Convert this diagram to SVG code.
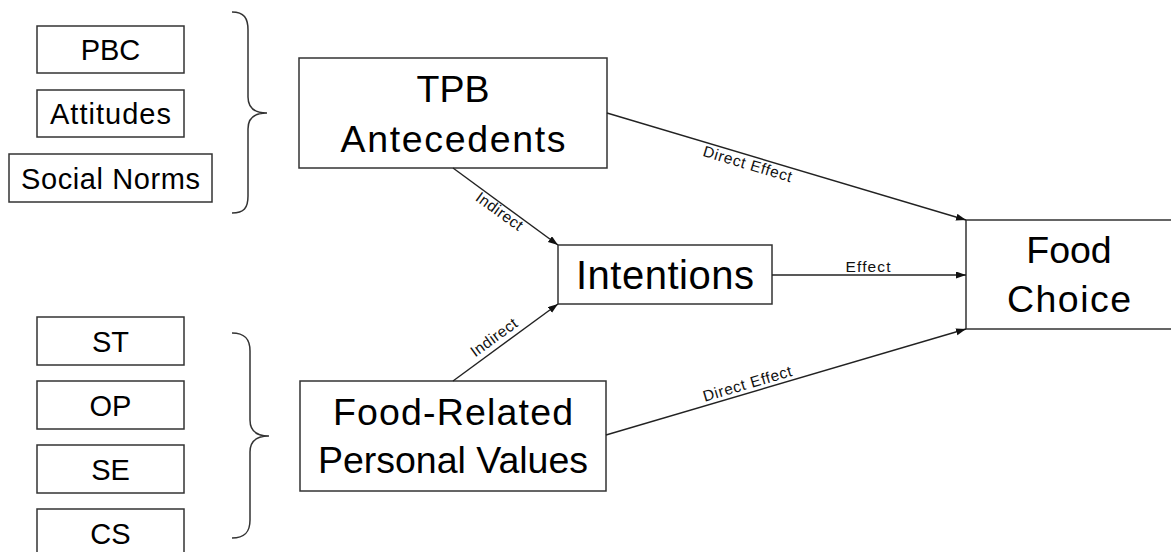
<svg xmlns="http://www.w3.org/2000/svg" width="1171" height="552" viewBox="0 0 1171 552">
<style>
.box{fill:#fff;stroke:#333;stroke-width:1.5}
.t{font-family:"Liberation Sans",Arial,sans-serif;fill:#000;text-anchor:middle}
.s{font-size:29px}
.b{font-size:37.5px}
.e{font-size:15.5px;fill:#111}
.ln{stroke:#222;stroke-width:1.4;fill:none}
.br{stroke:#333;stroke-width:1.5;fill:none}
</style>
<defs>
<marker id="ah" markerUnits="userSpaceOnUse" markerWidth="10" markerHeight="8" refX="10" refY="3.5" orient="auto">
<path d="M0,0 L10,3.5 L0,7 z" fill="#111"/>
</marker>
</defs>
<rect width="1171" height="552" fill="#fff"/>

<g id="pbc"><rect class="box" x="37" y="26" width="147" height="47"/><text class="t s" x="110.5" y="60">PBC</text></g>
<g id="attitudes"><rect class="box" x="37" y="90" width="147" height="47"/><text class="t s" x="110.5" y="124" textLength="121" lengthAdjust="spacing">Attitudes</text></g>
<g id="social-norms"><rect class="box" x="9" y="154" width="203" height="48"/><text class="t s" x="110.5" y="188.5" textLength="179" lengthAdjust="spacing">Social Norms</text></g>

<g id="st"><rect class="box" x="37" y="317" width="147" height="48"/><text class="t s" x="110.5" y="351.5">ST</text></g>
<g id="op"><rect class="box" x="37" y="381" width="147" height="48"/><text class="t s" x="110.5" y="415.5">OP</text></g>
<g id="se"><rect class="box" x="37" y="445" width="147" height="48"/><text class="t s" x="110.5" y="479.5">SE</text></g>
<g id="cs"><rect class="box" x="37" y="509" width="147" height="48"/><text class="t s" x="110.5" y="543.5">CS</text></g>

<g id="brace-top"><path class="br" d="M232,12 C244,12 248,18 248,30 L248,97 C248,108 255,113 267,113 C255,113 248,118 248,129 L248,196 C248,208 244,213 232,213"/></g>
<g id="brace-bottom"><path class="br" d="M232,333 C245,333 250,339 250,351 L250,420 C250,431 257,436 269,436 C257,436 250,441 250,452 L250,520 C250,532 245,538 232,538"/></g>

<g id="tpb"><rect class="box" x="299" y="58" width="308" height="110"/>
<text class="t b" x="453" y="102">TPB</text>
<text class="t b" x="453" y="152" textLength="225" lengthAdjust="spacing">Antecedents</text></g>

<g id="frpv"><rect class="box" x="300" y="381" width="306" height="110"/>
<text class="t b" x="453" y="425" textLength="240" lengthAdjust="spacing">Food-Related</text>
<text class="t b" x="453" y="473" textLength="270" lengthAdjust="spacing">Personal Values</text></g>

<g id="intentions"><rect class="box" x="558" y="245" width="214" height="59"/>
<text class="t" style="font-size:40px" x="665" y="289" textLength="178" lengthAdjust="spacing">Intentions</text></g>

<g id="food-choice"><rect class="box" x="966" y="220" width="208" height="109"/>
<text class="t b" x="1069" y="263">Food</text>
<text class="t b" x="1069" y="312" textLength="124" lengthAdjust="spacing">Choice</text></g>

<g id="connectors">
<line class="ln" x1="607" y1="113" x2="966" y2="220" marker-end="url(#ah)"/>
<line class="ln" x1="453" y1="168" x2="558" y2="245" marker-end="url(#ah)"/>
<line class="ln" x1="453" y1="381" x2="558" y2="304" marker-end="url(#ah)"/>
<line class="ln" x1="772" y1="275" x2="966" y2="275" marker-end="url(#ah)"/>
<line class="ln" x1="606" y1="435" x2="966" y2="329" marker-end="url(#ah)"/>
<text class="t e" transform="translate(750,155.6) rotate(16.6)" x="0" y="14" textLength="92" lengthAdjust="spacing">Direct Effect</text>
<text class="t e" transform="translate(504,205) rotate(36)" x="0" y="13" textLength="54" lengthAdjust="spacing">Indirect</text>
<text class="t e" transform="translate(500.5,346.5) rotate(-36)" x="0" y="-6" textLength="54" lengthAdjust="spacing">Indirect</text>
<text class="t e" x="868" y="272" textLength="45" lengthAdjust="spacing">Effect</text>
<text class="t e" transform="translate(750,392.6) rotate(-16.4)" x="0" y="-4" textLength="92" lengthAdjust="spacing">Direct Effect</text>
</g>
</svg>
